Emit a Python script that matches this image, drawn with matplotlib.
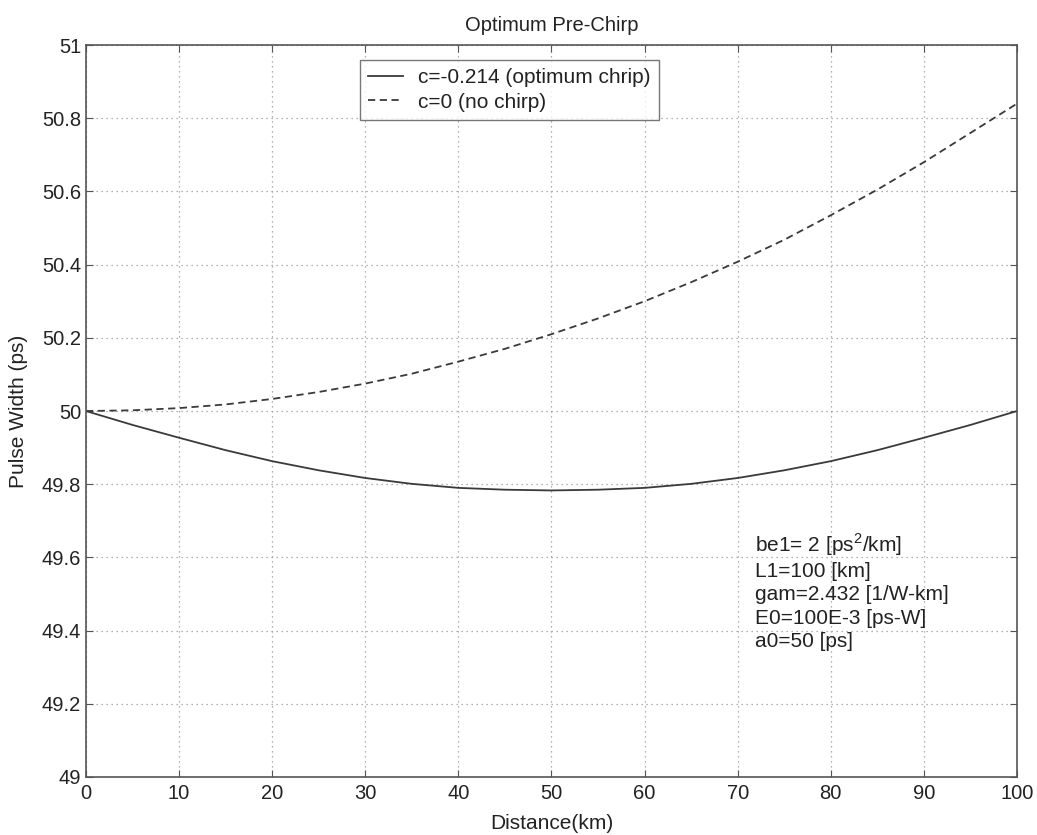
import matplotlib
matplotlib.use("Agg")
import matplotlib.pyplot as plt

# ── data ──────────────────────────────────────────────────────────────────────
distance = [0, 5, 10, 15, 20, 25, 30, 35, 40, 45, 50,
            55, 60, 65, 70, 75, 80, 85, 90, 95, 100]
width_opt_chirp = [50.000, 49.962, 49.927, 49.893, 49.863, 49.838, 49.817,
                   49.801, 49.790, 49.785, 49.783, 49.785, 49.790, 49.801,
                   49.817, 49.838, 49.863, 49.893, 49.927, 49.962, 50.000]
width_no_chirp = [50.000, 50.002, 50.008, 50.018, 50.033, 50.052, 50.075,
                  50.102, 50.135, 50.170, 50.210, 50.253, 50.300, 50.352,
                  50.408, 50.468, 50.535, 50.605, 50.680, 50.760, 50.840]
x_ticks = [0, 10, 20, 30, 40, 50, 60, 70, 80, 90, 100]
y_ticks = [49, 49.2, 49.4, 49.6, 49.8, 50, 50.2, 50.4, 50.6, 50.8, 51]
y_tick_labels = ["49", "49.2", "49.4", "49.6", "49.8", "50",
                 "50.2", "50.4", "50.6", "50.8", "51"]
params_text = ["be1= 2 [ps$^2$/km]", "L1=100 [km]", "gam=2.432 [1/W-km]",
               "E0=100E-3 [ps-W]", "a0=50 [ps]"]

plt.rcParams["font.family"] = ["Liberation Sans", "DejaVu Sans"]
plt.rcParams["mathtext.fontset"] = "custom"
plt.rcParams["mathtext.rm"] = "Liberation Sans"

fig = plt.figure(figsize=(10.37, 8.35), dpi=100)
ax = fig.add_axes([0.0829, 0.0695, 0.8978, 0.8765])

line_col = "#3a3a3a"
ax.plot(distance, width_opt_chirp, color=line_col, lw=1.3,
        label="c=-0.214 (optimum chrip)")
ax.plot(distance, width_no_chirp, color=line_col, lw=1.3, ls=(0, (4, 2.5)),
        label="c=0 (no chirp)")

ax.set_xlim(0, 100)
ax.set_ylim(49, 51)
ax.set_xticks(x_ticks)
ax.set_yticks(y_ticks)
ax.set_yticklabels(y_tick_labels)
ax.tick_params(direction="in", top=True, right=True, labelsize=14.5,
               length=5, color="#555555", labelcolor="#222222")
ax.tick_params(axis="x", pad=5)
ax.grid(True, ls=(0, (1, 3)), color="#999999", lw=0.9)
for sp in ax.spines.values():
    sp.set_color("#555555")
    sp.set_linewidth(1.2)

ax.set_xlabel("Distance(km)", fontsize=15, color="#222222")
ax.set_ylabel("Pulse Width (ps)", fontsize=15, color="#222222")
ax.xaxis.set_label_coords(0.5, -0.05)
ax.yaxis.set_label_coords(-0.062, 0.5)
ax.set_title("Optimum Pre-Chirp", fontsize=14.5, pad=10, color="#222222")

leg = ax.legend(loc="upper left", bbox_to_anchor=(0.294, 0.9795),
                fontsize=15, frameon=True, fancybox=False,
                edgecolor="#555555", handlelength=1.7, handletextpad=0.7,
                borderpad=0.4, labelspacing=0.25, borderaxespad=0)
leg.get_frame().set_linewidth(1.0)
for t in leg.get_texts():
    t.set_color("#222222")

ax.text(71.9, 49.67, "\n".join(params_text), fontsize=15, va="top",
        ha="left", linespacing=1.27, color="#222222")

fig.savefig("out.png", dpi=100)
